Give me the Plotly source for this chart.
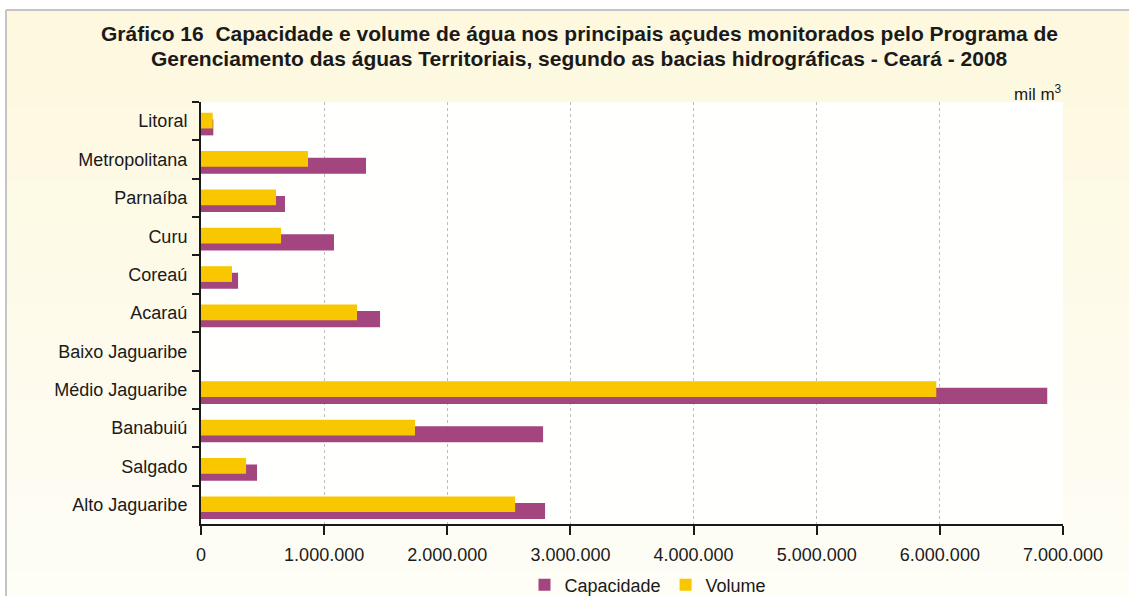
import plotly.graph_objects as go

categories = ["Litoral", "Metropolitana", "Parnaíba", "Curu", "Coreaú", "Acaraú",
              "Baixo Jaguaribe", "Médio Jaguaribe", "Banabuiú", "Salgado", "Alto Jaguaribe"]
capacidade = [100000, 1340000, 682000, 1080000, 301000, 1454000,
              None, 6872000, 2778000, 455000, 2794000]
volume = [95000, 869000, 609000, 650000, 252000, 1267000,
          None, 5971000, 1738000, 366000, 2551000]
x_ticks = [0, 1000000, 2000000, 3000000, 4000000, 5000000, 6000000, 7000000]

W, H = 1129, 596
L, R, T, B = 201, 66, 102, 72
pw, ph = W - L - R, H - T - B

def px(x):
    return (x - L) / pw

def py(y):
    return (H - B - y) / ph

PURPLE = "#a3457f"
YELLOW = "#f8c700"
REG = "Liberation Sans, Arial, sans-serif"

fig = go.Figure()
fig.add_trace(go.Bar(y=categories, x=capacidade, orientation="h", name="Capacidade",
                     marker=dict(color=PURPLE, line=dict(width=0)),
                     width=0.42, offset=-0.05))
fig.add_trace(go.Bar(y=categories, x=volume, orientation="h", name="Volume",
                     marker=dict(color=YELLOW, line=dict(width=0)),
                     width=0.41, offset=-0.22))

shapes = []
n = 24
top_c = (253, 248, 222)
bot_c = (254, 253, 246)
y0 = 10
for i in range(n):
    t = i / (n - 1)
    c = tuple(int(round(top_c[k] + (bot_c[k] - top_c[k]) * t)) for k in range(3))
    ya = y0 + (H - y0) * i / n
    yb = y0 + (H - y0) * (i + 1) / n
    shapes.append(dict(type="rect", xref="paper", yref="paper", layer="below",
                       x0=px(6), x1=px(W + 5), y0=py(ya), y1=py(yb + 1),
                       fillcolor="rgb(%d,%d,%d)" % c, line=dict(width=0)))
shapes.append(dict(type="rect", xref="paper", yref="paper", layer="below",
                   x0=0, x1=1, y0=0, y1=1, fillcolor="#fffffd", line=dict(width=0)))
shapes.append(dict(type="line", xref="paper", yref="paper", x0=px(6), x1=px(6),
                   y0=py(10), y1=py(H + 5), line=dict(color="#c4c4c4", width=2)))
shapes.append(dict(type="line", xref="paper", yref="paper", x0=px(6), x1=px(W + 5),
                   y0=py(10), y1=py(10), line=dict(color="#c4c4c4", width=2)))

TFONT = dict(family=REG, size=21, color="#1a1a1a")
annotations = [
    dict(text="<b>Gráfico 16  Capacidade e volume de água nos principais açudes monitorados pelo Programa de</b>",
         xref="paper", yref="paper", x=px(579), y=py(33), xanchor="center", yanchor="middle",
         showarrow=False, font=TFONT),
    dict(text="<b>Gerenciamento das águas Territoriais, segundo as bacias hidrográficas - Ceará - 2008</b>",
         xref="paper", yref="paper", x=px(579), y=py(59), xanchor="center", yanchor="middle",
         showarrow=False, font=TFONT),
    dict(text="mil m<sup>3</sup>", xref="paper", yref="paper", x=px(1064), y=py(93),
         xanchor="right", yanchor="middle", showarrow=False,
         font=dict(family=REG, size=17, color="#1a1a1a")),
]

fig.update_layout(
    width=W, height=H,
    margin=dict(l=L, r=R, t=T, b=B, pad=0),
    paper_bgcolor="white", plot_bgcolor="rgba(0,0,0,0)",
    barmode="overlay",
    separators=",.",
    showlegend=True,
    legend=dict(orientation="h", xref="container", yref="container",
                x=648 / W, xanchor="center", y=(H - 585) / H, yanchor="middle",
                font=dict(family=REG, size=18, color="#1a1a1a"),
                bgcolor="rgba(0,0,0,0)", itemwidth=30, traceorder="normal"),
    shapes=shapes,
    annotations=annotations,
    xaxis=dict(range=[0, 7000000], tickvals=x_ticks, tickformat=",d", automargin=False,
               showgrid=True, gridcolor="#bdbdbd", griddash="dot", gridwidth=1,
               showline=True, linecolor="#1a1a1a", linewidth=2,
               ticks="outside", ticklen=9, tickwidth=2, tickcolor="#1a1a1a",
               ticklabelstandoff=4,
               tickfont=dict(family=REG, size=18, color="#1a1a1a"),
               zeroline=False, fixedrange=True),
    yaxis=dict(autorange="reversed", type="category", tickson="boundaries", automargin=False,
               showline=True, linecolor="#1a1a1a", linewidth=2,
               ticks="outside", ticklen=7, tickwidth=2, tickcolor="#1a1a1a",
               ticklabelstandoff=8,
               tickfont=dict(family=REG, size=18, color="#1a1a1a"),
               showgrid=False, zeroline=False, fixedrange=True),
)

fig.write_html("out.html", config={"displayModeBar": False},
               post_script="document.body.style.margin='0';")
